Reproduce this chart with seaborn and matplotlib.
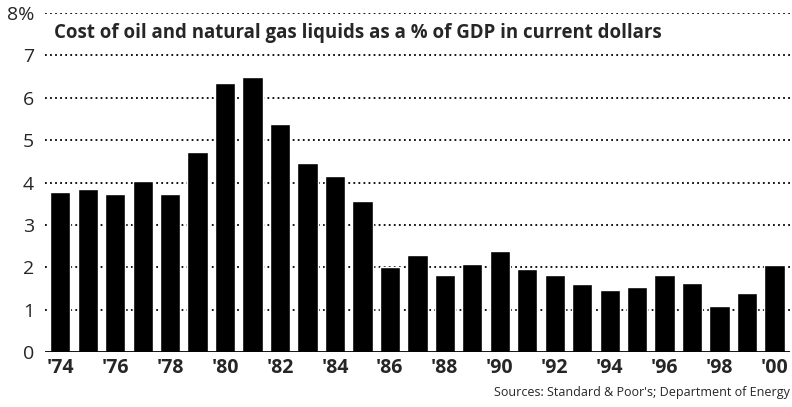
import pandas as pd
import matplotlib.pyplot as plt
import seaborn as sns

# data (% of GDP)
years = ["'74", "'75", "'76", "'77", "'78", "'79", "'80", "'81", "'82",
         "'83", "'84", "'85", "'86", "'87", "'88", "'89", "'90", "'91",
         "'92", "'93", "'94", "'95", "'96", "'97", "'98", "'99", "'00"]
cost_pct = [3.77, 3.85, 3.74, 4.03, 3.72, 4.71, 6.35, 6.50, 5.39,
            4.46, 4.15, 3.56, 2.01, 2.30, 1.82, 2.08, 2.38, 1.97,
            1.82, 1.61, 1.47, 1.54, 1.81, 1.64, 1.08, 1.39, 2.06]
ytick_vals = [0, 1, 2, 3, 4, 5, 6, 7, 8]
ytick_labels = ['0', '1', '2', '3', '4', '5', '6', '7', '8%']

df = pd.DataFrame({'year': years, 'cost': cost_pct})

sns.set_theme(style='white')
plt.rcParams['font.family'] = ['Open Sans', 'DejaVu Sans']

fig = plt.figure(figsize=(7.92, 4.07), dpi=100)
ax = fig.add_axes([0.057, 0.135, 0.94, 0.833])

sns.barplot(data=df, x='year', y='cost', order=years, color='black',
            width=0.74, saturation=1, ax=ax, zorder=3)

ax.set_ylim(0, 8)
ax.set_xlim(-0.55, len(years) - 0.45)
ax.set_yticks(ytick_vals)
ax.set_yticklabels(ytick_labels, fontsize=14, fontweight='medium')
ax.set_xticks(range(0, len(years), 2))
ax.set_xticklabels(years[::2], fontsize=14, fontweight='bold')
ax.tick_params(axis='both', length=0)
ax.tick_params(axis='y', pad=8)
ax.tick_params(axis='x', pad=4)
ax.set_xlabel('')
ax.set_ylabel('')

for v in ytick_vals[1:]:
    ax.axhline(v, color='black', linestyle=(0, (1, 1.8)), linewidth=1.3, zorder=1)
ax.axhline(0, color='black', linewidth=2, zorder=4)

for s in ['top', 'right', 'left', 'bottom']:
    ax.spines[s].set_visible(False)

fig.text(0.068, 0.918, 'Cost of oil and natural gas liquids as a % of GDP in current dollars',
         fontsize=13.4, fontweight='bold', va='center', ha='left')
fig.text(0.997, 0.035, "Sources: Standard & Poor's; Department of Energy",
         fontsize=9, va='center', ha='right')

fig.savefig('out.png', dpi=100)
